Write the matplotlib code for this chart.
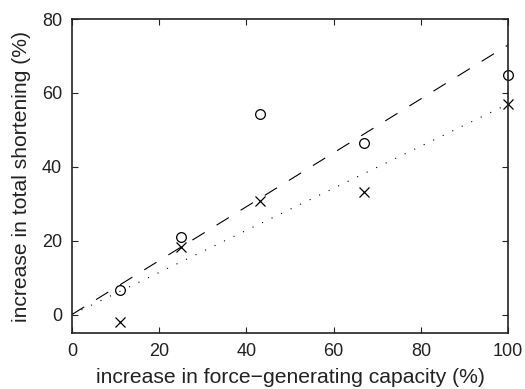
import matplotlib
matplotlib.use("Agg")
import matplotlib.pyplot as plt

plt.rcParams['font.family'] = ['Liberation Sans', 'DejaVu Sans']

# data
force_x = [11, 25, 43, 67, 100]
circle_y = [6.7, 21.1, 54.2, 46.5, 64.9]
cross_y = [-1.9, 18.2, 30.7, 33.3, 56.9]
fit_x = [0, 100]
dashed_y = [0, 73]
dotted_y = [0, 57]

fig = plt.figure(figsize=(5.25, 3.89), dpi=100)
ax = fig.add_axes([0.137, 0.144, 0.831, 0.807])

ax.plot(fit_x, dashed_y, color='black', lw=0.8, dashes=(13, 12.5))
ax.plot(fit_x, dotted_y, color='black', lw=0.8, dashes=(1.0, 8.5))
ax.plot(force_x, circle_y, 'o', mfc='none', mec='black', ms=7, mew=0.9, clip_on=False)
ax.plot(force_x, cross_y, 'x', color='black', ms=7, mew=0.9, clip_on=False)

ax.set_xlim(0, 100)
ax.set_ylim(-5, 80)
ax.set_xticks([0, 20, 40, 60, 80, 100])
ax.set_yticks([0, 20, 40, 60, 80])
ax.tick_params(direction='in', top=True, right=True, length=4, width=0.8,
               labelsize=13, colors='#222222', pad=7)
for s in ax.spines.values():
    s.set_linewidth(1.2)
    s.set_color('#222222')

ax.set_xlabel('increase in force\u2212generating capacity (%)', fontsize=15.2,
              labelpad=6, color='#222222')
ax.set_ylabel('increase in total shortening (%)', fontsize=15.2,
              labelpad=8, color='#222222')

fig.savefig('out.png', dpi=100)
